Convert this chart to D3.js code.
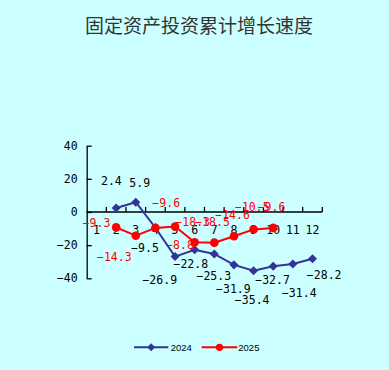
<!DOCTYPE html>
<html>
<head>
<meta charset="utf-8">
<script src="https://cdn.jsdelivr.net/npm/d3@7/dist/d3.min.js"></script>
<style>
html,body{margin:0;padding:0;background:#ccffff;}
svg{display:block;}
</style>
</head>
<body>
<svg id="chart" width="389" height="370"></svg>
<script>
// ---- data ----
const title = "固定资产投资累计增长速度";
const months = ["1","2","3","4","5","6","7","8","9","10","11","12"];
const yTicks = [40, 20, 0, -20, -40];
const seriesNames = ["2024", "2025"];
const values2024 = [null, 2.4, 5.9, -9.5, -26.9, -22.8, -25.3, -31.9, -35.4, -32.7, -31.4, -28.2];
const values2025 = [null, -9.3, -14.3, -9.6, -8.8, -18.3, -18.5, -14.6, -10.5, -9.6, null, null];

// ---- label placement (layout, px offsets from the point) ----
const labelDx2024 = [0, -4.8, 3.9, -10.4, -15.3, -3.9, -0.5, -0.6, -1.4, -0.7, 6.4, 11.7];
const labelDy2024 = [0, -22.7, -15.2, 24.3, 27.7, 17.8, 25.7, 28.1, 33.6, 18.1, 33, 19.9];
const labelDx2025 = [0, -19.6, -21.5, 10.8, 5, -2, -1.8, -1.4, -1.3, -1.7, 0, 0];
const labelDy2025 = [0, -0.4, 25.6, -20.9, 22.7, -16, -16.4, -16.9, -18.4, -16.9, 0, 0];

const svg = d3.select("#chart");
svg.append("rect").attr("width", 389).attr("height", 370).attr("fill", "#ccffff");

const x = d3.scaleBand().domain(months).range([86.7, 322.3]).padding(0);
const y = d3.scaleLinear().domain([-40, 40]).range([278.3, 145.7]);
const fmt = d3.format(".1f");
const mono = "'DejaVu Sans Mono', monospace";

// title
svg.append("text").attr("x", 199).attr("y", 33).attr("text-anchor", "middle")
  .attr("font-family", "'Noto Sans CJK SC', sans-serif").attr("font-size", 19)
  .attr("fill", "#333").text(title);

// y axis
const yAxis = svg.append("g").attr("transform", "translate(86.7,0)")
  .call(d3.axisLeft(y).tickValues(yTicks).tickSizeInner(-5).tickSizeOuter(0).tickPadding(9));
yAxis.select(".domain").attr("stroke", "#000").attr("stroke-width", 1.3);
yAxis.selectAll(".tick line").attr("stroke", "#000").attr("stroke-width", 1.3);
yAxis.selectAll(".tick text").attr("font-family", mono).attr("font-size", 11.5).attr("fill", "#000");

// x axis (at value 0, ticks between categories)
const y0 = y(0);
const xg = svg.append("g");
xg.append("line").attr("x1", x.range()[0]).attr("x2", x.range()[1])
  .attr("y1", y0).attr("y2", y0).attr("stroke", "#000").attr("stroke-width", 1.3);
const bounds = months.map(m => x(m)).concat([x.range()[1]]);
xg.selectAll(".xt").data(bounds.slice(1)).enter().append("line")
  .attr("x1", d => d).attr("x2", d => d).attr("y1", y0).attr("y2", y0 - 5)
  .attr("stroke", "#000").attr("stroke-width", 1.3);
xg.selectAll(".xl").data(months).enter().append("text")
  .attr("x", d => x(d) + x.bandwidth() / 2).attr("y", y0 + 21.5)
  .attr("text-anchor", "middle").attr("font-family", mono).attr("font-size", 11.5)
  .attr("fill", "#000").text(d => d);

const cx = i => x(months[i]) + x.bandwidth() / 2;
const pts = vals => vals.map((v, i) => ({v, i})).filter(d => d.v !== null);

const line = d3.line().x(d => cx(d.i)).y(d => y(d.v));
const c24 = "#333399", c25 = "#ff0000";

// 2024 series
svg.append("path").datum(pts(values2024)).attr("d", line)
  .attr("fill", "none").attr("stroke", c24).attr("stroke-width", 2);
svg.selectAll(".m24").data(pts(values2024)).enter().append("path")
  .attr("d", d3.symbol().type(d3.symbolDiamond2).size(52))
  .attr("transform", d => `translate(${cx(d.i)},${y(d.v)})`)
  .attr("fill", c24);

// 2025 series
svg.append("path").datum(pts(values2025)).attr("d", line)
  .attr("fill", "none").attr("stroke", c25).attr("stroke-width", 2);
svg.selectAll(".m25").data(pts(values2025)).enter().append("circle")
  .attr("cx", d => cx(d.i)).attr("cy", d => y(d.v)).attr("r", 4.3).attr("fill", c25);

// data labels
svg.selectAll(".l24").data(pts(values2024)).enter().append("text")
  .attr("x", d => cx(d.i) + labelDx2024[d.i]).attr("y", d => y(d.v) + labelDy2024[d.i])
  .attr("text-anchor", "middle").attr("font-family", mono).attr("font-size", 11.5)
  .attr("fill", "#000").text(d => fmt(d.v));
svg.selectAll(".l25").data(pts(values2025)).enter().append("text")
  .attr("x", d => cx(d.i) + labelDx2025[d.i]).attr("y", d => y(d.v) + labelDy2025[d.i])
  .attr("text-anchor", "middle").attr("font-family", mono).attr("font-size", 11.5)
  .attr("fill", c25).text(d => fmt(d.v));

// legend
const legend = svg.append("g");
const legItems = [
  {name: seriesNames[0], color: c24, x1: 134, x2: 168.3, tx: 170.7, type: "diamond"},
  {name: seriesNames[1], color: c25, x1: 201.7, x2: 237.3, tx: 238.3, type: "circle"}
];
const ly = 347.3;
legItems.forEach(it => {
  legend.append("line").attr("x1", it.x1).attr("x2", it.x2).attr("y1", ly).attr("y2", ly)
    .attr("stroke", it.color).attr("stroke-width", 2);
  const mx = (it.x1 + it.x2) / 2;
  if (it.type === "diamond") {
    legend.append("path").attr("d", d3.symbol().type(d3.symbolDiamond2).size(40))
      .attr("transform", `translate(${mx},${ly})`).attr("fill", it.color);
  } else {
    legend.append("circle").attr("cx", mx).attr("cy", ly).attr("r", 3.6).attr("fill", it.color);
  }
  legend.append("text").attr("x", it.tx).attr("y", ly + 3.5)
    .attr("font-family", "'Liberation Sans', Arial, sans-serif").attr("font-size", 9.5)
    .attr("fill", "#000").text(it.name);
});
</script>
</body>
</html>
